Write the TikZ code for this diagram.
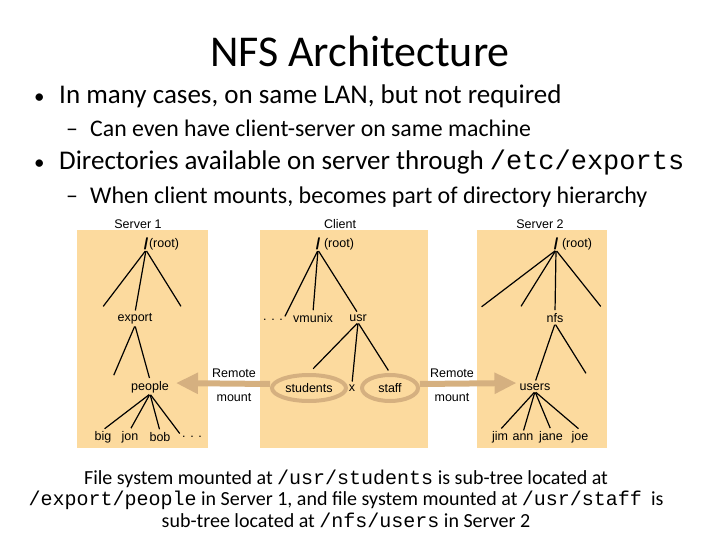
\documentclass[tikz,border=0pt]{standalone}
\usepackage{fontspec}
\setmainfont{Carlito}
\setmonofont{Liberation Mono}
\newfontfamily\diagfont{Liberation Sans}
\usetikzlibrary{arrows.meta,shapes.geometric}

\definecolor{panelfill}{RGB}{252,218,158}
\definecolor{mountcol}{RGB}{213,176,128}

\tikzstyle{panel}  = [fill=panelfill]
\tikzstyle{dir}    = [font=\diagfont\fontsize{12.5}{14}\selectfont,inner sep=1pt]
\tikzstyle{slash}  = [font=\diagfont\bfseries\fontsize{16}{16}\selectfont,inner sep=0pt]
\tikzstyle{branch} = [line width=1.2pt,shorten <=1pt,shorten >=2pt]
\tikzstyle{ring}   = [draw=mountcol,line width=4pt,ellipse,inner sep=0pt,
                      minimum height=26pt]
\tikzstyle{mount}  = [draw=mountcol,line width=6pt,
                      -{Triangle[length=22pt,width=20pt]}]
\tikzstyle{line}   = [anchor=base west,inner sep=0pt]

\begin{document}
\begin{tikzpicture}[x=1pt,y=-1pt]
  \useasboundingbox (0,0) rectangle (720,540);

  % slide text
  \node[anchor=base] (title) at (360,67) {\fontsize{44}{50}\selectfont NFS Architecture};
  \node[line] (d1) at (34,104) {\fontsize{21}{30}\selectfont •};
  \node[line] (b1) at (59,104) {\fontsize{27}{30}\selectfont In many cases, on same LAN, but not required};
  \node[line] (e1) at (66,137) {\fontsize{23.8}{26}\selectfont –};
  \node[line] (s1) at (90,137) {\fontsize{23.8}{26}\selectfont Can even have client-server on same machine};
  \node[line] (d2) at (34,170) {\fontsize{21}{30}\selectfont •};
  \node[line] (b2) at (59,170) {\fontsize{27}{30}\selectfont Directories available on server through \texttt{/etc/exports}};
  \node[line] (e2) at (66,204) {\fontsize{23.8}{26}\selectfont –};
  \node[line] (s2) at (90,204) {\fontsize{24}{26}\selectfont When client mounts, becomes part of directory hierarchy};

  \node[anchor=north,align=center,font=\fontsize{20}{21.5}\selectfont] (cap) at (346,466) {%
    File system mounted at \texttt{/usr/students} is sub-tree located at\\
    \texttt{/export/people} in Server 1, and file system mounted at \texttt{/usr/staff}~ is\\
    sub-tree located at \texttt{/nfs/users} in Server 2};

  % panels
  \fill[panel] (77,230) rectangle (208,448);
  \fill[panel] (260,230) rectangle (428,448);
  \fill[panel] (477,230) rectangle (607,448);

  % server 1
  \node[dir] (srv1) at (138,224) {Server 1};
  \node[slash] (root1) at (146,244) {/};
  \node[dir] (rt1) at (164,244) {(root)};
  \node[dir] (export) at (135,319) {export};
  \node[dir] (people) at (150,387) {people};
  \node[dir] (big) at (103,437) {big};
  \node[dir] (jon) at (130,437) {jon};
  \node[dir] (bob) at (160,437) {bob};
  \node[dir] (pdots) at (192,437) {. . .};
  \coordinate (s1a) at (102,308);
  \coordinate (s1b) at (182,308);
  \coordinate (s1c) at (113,377);
  \draw[branch] (root1.south) -- (s1a);
  \draw[branch] (root1.south) -- (export.north);
  \draw[branch] (root1.south) -- (s1b);
  \draw[branch] (export.south) -- (s1c);
  \draw[branch] (export.south) -- (people.north);
  \draw[branch] (people.south) -- (big.north);
  \draw[branch] (people.south) -- (jon.north);
  \draw[branch] (people.south) -- (bob.north);
  \draw[branch] (people.south) -- (pdots.north west);

  % client
  \node[dir] (client) at (340,224) {Client};
  \node[slash] (rootc) at (318,244) {/};
  \node[dir] (rtc) at (339,244) {(root)};
  \node[dir] (cdots) at (273,320) {. . .};
  \node[dir] (vmunix) at (313,318) {vmunix};
  \node[dir] (usr) at (358,318) {usr};
  \node[ring,minimum width=74pt] (students) at (309,388) {};
  \node[dir] at (students) {students};
  \node[dir] (xdir) at (352,388) {x};
  \node[ring,minimum width=56pt] (staff) at (390,388) {};
  \node[dir] at (staff) {staff};
  \draw[branch] (rootc.south) -- (cdots.north east);
  \draw[branch] (rootc.south) -- (vmunix.north);
  \draw[branch] (rootc.south) -- (usr.north);
  \draw[branch,shorten >=6pt] (usr.south) -- (students.north);
  \draw[branch] (usr.south) -- (xdir.north);
  \draw[branch,shorten >=3pt] (usr.south) -- (staff.north);

  % server 2
  \node[dir] (srv2) at (540,224) {Server 2};
  \node[slash] (root2) at (556,244) {/};
  \node[dir] (rt2) at (577,244) {(root)};
  \node[dir] (nfs) at (555,318) {nfs};
  \node[dir] (users) at (535,387) {users};
  \node[dir] (jim) at (500,437) {jim};
  \node[dir] (ann) at (523,437) {ann};
  \node[dir] (jane) at (551,437) {jane};
  \node[dir] (joe) at (580,437) {joe};
  \coordinate (s2a) at (480,308);
  \coordinate (s2b) at (520,308);
  \coordinate (s2c) at (602,308);
  \coordinate (s2d) at (587,375);
  \draw[branch] (root2.south) -- (s2a);
  \draw[branch] (root2.south) -- (s2b);
  \draw[branch] (root2.south) -- (nfs.north);
  \draw[branch] (root2.south) -- (s2c);
  \draw[branch] (nfs.south) -- (users.north);
  \draw[branch] (nfs.south) -- (s2d);
  \draw[branch] (users.south) -- (jim.north);
  \draw[branch] (users.south) -- (ann.north);
  \draw[branch] (users.south) -- (jane.north);
  \draw[branch] (users.south) -- (joe.north);

  % remote mounts
  \node[dir] (rem1) at (234,373) {Remote};
  \node[dir] (mnt1) at (234,398) {mount};
  \node[dir] (rem2) at (452,373) {Remote};
  \node[dir] (mnt2) at (452,398) {mount};
  \draw[mount,shorten >=6pt] ([yshift=4pt]students.west) -- ([yshift=4pt]people.east);
  \draw[mount,shorten >=2pt] ([yshift=4pt]staff.east) -- ([yshift=4pt]users.west);
\end{tikzpicture}
\end{document}
